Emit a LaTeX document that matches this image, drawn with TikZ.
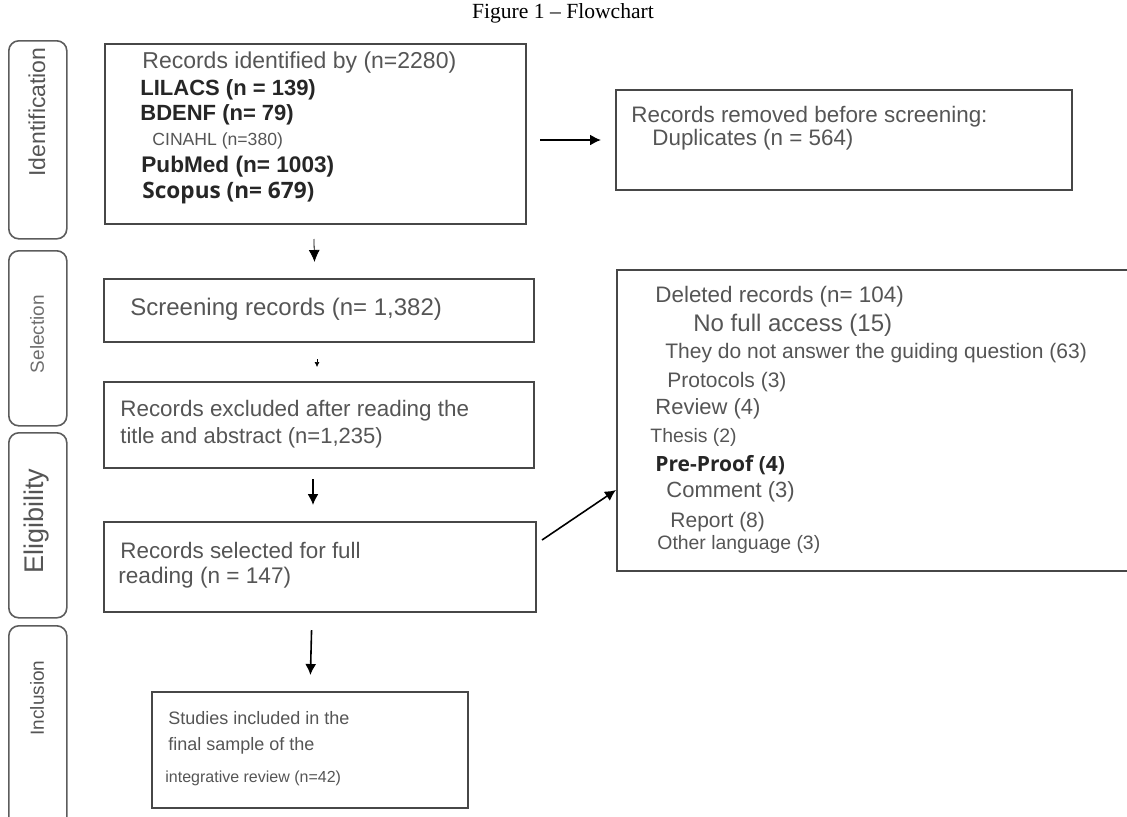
\documentclass[tikz,border=0pt]{standalone}
\usepackage{fontspec}
\setmainfont{Liberation Serif}
\newfontfamily\arial{Liberation Sans}
\newfontfamily\opensans{Open Sans}
\usetikzlibrary{arrows.meta,positioning}
\newcommand{\setsz}[1]{\fontsize{#1}{#1}\selectfont}
\definecolor{linegray}{HTML}{474747}
\definecolor{textgray}{HTML}{555555}
\definecolor{bargray}{HTML}{5C5C5C}
\tikzset{
  box/.style={draw=linegray,line width=1pt,anchor=north west,inner sep=0pt},
  bar/.style={draw=bargray,line width=0.8pt,rounded corners=5pt,anchor=north west,inner sep=0pt},
  bartext/.style={rotate=90,text=textgray,inner sep=0pt},
  txt/.style={anchor=west,inner sep=0pt,text=textgray},
  btxt/.style={anchor=west,inner sep=0pt,text=black!85},
  flow/.style={-{Latex[length=5.5pt,width=5.5pt]},line width=0.8pt},
}
\begin{document}
\begin{tikzpicture}[x=0.5pt,y=-0.5pt]
  \useasboundingbox (0,0) rectangle (1127,816);
  \clip (0,0) rectangle (1127,816);
  % title
  \node[font=\setsz{10.8}] (title) at (563,13) {Figure 1 – Flowchart};

  % phases on the left
  \node[bar,minimum width=29pt,minimum height=99pt] (idbar) at (8,40) {};
  \node[bartext,font=\arial\setsz{11.5}] (idlab) at (37,112) {Identification};
  \node[bar,minimum width=29pt,minimum height=87.5pt] (selbar) at (8,250) {};
  \node[bartext,font=\arial\setsz{9.5},text=textgray!85] (sellab) at (37,334) {Selection};
  \node[bar,minimum width=29pt,minimum height=92.5pt] (elbar) at (8,432) {};
  \node[bartext,font=\arial\setsz{13.5}] (ellab) at (37,521) {Eligibility};
  \node[bar,minimum width=29pt,minimum height=110pt] (incbar) at (8,625) {};
  \node[bartext,font=\arial\setsz{9.5}] (inclab) at (37,698) {Inclusion};

  % boxes
  \node[box,minimum width=210.5pt,minimum height=90pt] (ident) at (104,43) {};
  \node[box,minimum width=228pt,minimum height=50pt] (removed) at (615,89) {};
  \node[box,minimum width=215pt,minimum height=31.5pt] (screen) at (103,278) {};
  \node[box,minimum width=215pt,minimum height=43pt] (excl) at (103,381) {};
  \node[box,minimum width=216pt,minimum height=45pt] (sel) at (103,521) {};
  \node[box,minimum width=158pt,minimum height=58pt] (incl) at (151,691) {};
  \node[box,minimum width=262pt,minimum height=150.5pt] (deleted) at (616,269) {};

  % texts of the boxes
  \node[txt,font=\arial\setsz{11.5}] (id1) at (142,63) {Records identified by (n=2280)};
  \node[btxt,font=\arial\bfseries\setsz{11}] (id2) at (140,90) {LILACS (n = 139)};
  \node[btxt,font=\arial\bfseries\setsz{11}] (id3) at (140,115) {BDENF (n= 79)};
  \node[txt,font=\arial\setsz{8.8}] (id4) at (152,141) {CINAHL (n=380)};
  \node[btxt,font=\arial\bfseries\setsz{11.3}] (id5) at (141,167) {PubMed (n= 1003)};
  \node[btxt,font=\opensans\bfseries\setsz{11.3}] (id6) at (142,193) {Scopus (n= 679)};

  \node[txt,font=\arial\setsz{11.2}] (rm1) at (631,117) {Records removed before screening:};
  \node[txt,font=\arial\setsz{11.2}] (rm2) at (652,140) {Duplicates (n = 564)};

  \node[txt,font=\arial\setsz{12}] (sc1) at (130,309) {Screening records (n= 1,382)};
  \node[txt,font=\arial\setsz{11.2}] (ex1) at (120,411) {Records excluded after reading the};
  \node[txt,font=\arial\setsz{11}] (ex2) at (120,438) {title and abstract (n=1,235)};
  \node[txt,font=\arial\setsz{11.2}] (se1) at (120,550) {Records selected for full};
  \node[txt,font=\arial\setsz{11.3}] (se2) at (118,578) {reading (n = 147)};
  \node[txt,font=\arial\setsz{9}] (in1) at (168,718) {Studies included in the};
  \node[txt,font=\arial\setsz{9}] (in2) at (168,746) {final sample of the};
  \node[txt,font=\arial\setsz{8}] (in3) at (165,778) {integrative review (n=42)};

  \node[txt,font=\arial\setsz{11.2}] (de1) at (655,297) {Deleted records (n= 104)};
  \node[txt,font=\arial\setsz{12}] (de2) at (693,325) {No full access (15)};
  \node[txt,font=\arial\setsz{10.5}] (de3) at (665,353) {They do not answer the guiding question (63)};
  \node[txt,font=\arial\setsz{10.5}] (de4) at (667,382) {Protocols (3)};
  \node[txt,font=\arial\setsz{11}] (de5) at (655,409) {Review (4)};
  \node[txt,font=\arial\setsz{9.7}] (de6) at (650,437) {Thesis (2)};
  \node[btxt,font=\opensans\bfseries\setsz{10.5}] (de7) at (655,465) {Pre-Proof (4)};
  \node[txt,font=\arial\setsz{11}] (de8) at (666,492) {Comment (3)};
  \node[txt,font=\arial\setsz{10.5}] (de9) at (670,522) {Report (8)};
  \node[txt,font=\arial\setsz{9.7}] (de10) at (657,544) {Other language (3)};

  % connectors
  \draw[-{Latex[length=6pt,width=5.5pt]},line width=0.4pt,shorten <=7pt,shorten >=8pt] ([xshift=-1pt]ident.south) -- ([xshift=-2pt]screen.north);
  \draw[-{Latex[length=2.5pt,width=2.5pt]},line width=0.3pt,shorten <=8pt,shorten >=7pt] ([xshift=-1pt]screen.south) -- ([xshift=-1pt]excl.north);
  \draw[flow,shorten <=5pt,shorten >=8pt] ([xshift=-3pt]excl.south) -- ([xshift=-3.5pt]sel.north);
  \draw[flow,shorten <=8.5pt,shorten >=8pt] ([xshift=-4pt]sel.south) -- (incl.north);
  \draw[flow,shorten <=6.5pt,shorten >=7pt] (ident.east |- removed.west) -- (removed.west);
  \draw[flow] ([shift={(2.5pt,-9.5pt)}]sel.north east) -- ([yshift=41pt]deleted.south west);
\end{tikzpicture}
\end{document}
